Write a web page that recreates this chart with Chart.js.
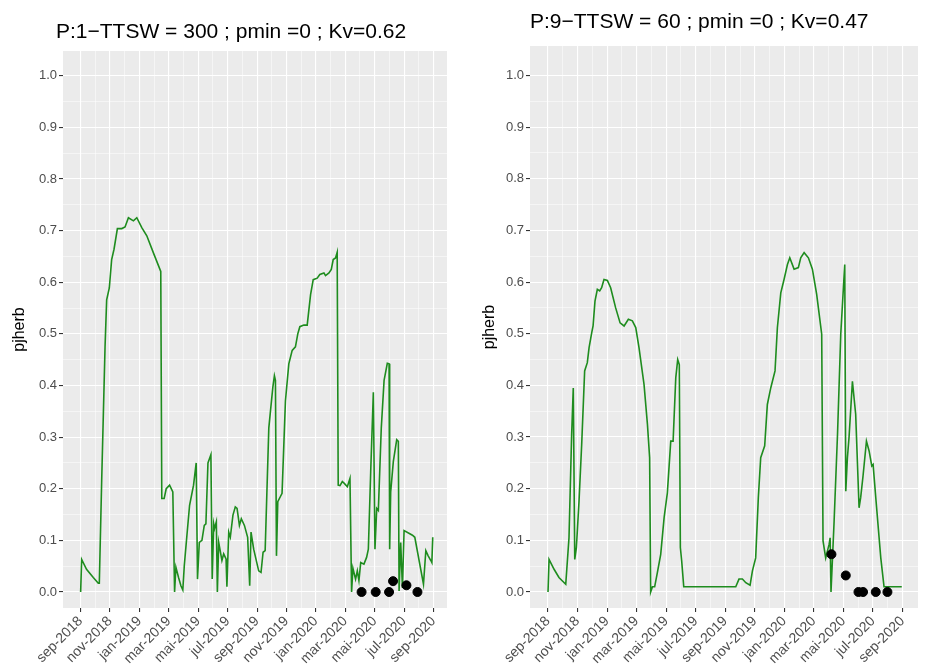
<!DOCTYPE html>
<html>
<head>
<meta charset="utf-8">
<script src="https://cdn.jsdelivr.net/npm/chart.js@4"></script>
<style>
  body { margin: 0; background: #fff; width: 933px; height: 665px; overflow: hidden; position: relative; }
  .panel { position: absolute; top: 0; height: 665px; }
</style>
</head>
<body>
<div class="panel" style="left:0;width:460px"><canvas id="p1" width="460" height="665"></canvas></div>
<div class="panel" style="left:470px;width:463px"><canvas id="p2" width="463" height="665"></canvas></div>
<script>
// Months counted from 1 sep 2018.
const monthLabels = ['sep-2018', 'nov-2018', 'jan-2019', 'mar-2019', 'mai-2019', 'jul-2019',
  'sep-2019', 'nov-2019', 'jan-2020', 'mar-2020', 'mai-2020', 'jul-2020', 'sep-2020'];

// Panel 1 : P:1
const months1 = [0, 0.07, 0.4, 0.86, 1.2, 1.27, 1.43, 1.66, 1.77, 1.95, 2.11, 2.27, 2.5, 2.8, 3.02, 3.25, 3.59, 3.82, 4.16, 4.5, 4.95, 5.45,
  5.52, 5.68, 5.82, 6.05, 6.27, 6.39, 6.48, 6.66, 6.82, 6.95, 7.05, 7.23, 7.41, 7.68, 7.86, 7.95, 8.07, 8.25, 8.41, 8.52, 8.66, 8.86,
  8.95, 9.05, 9.11, 9.23, 9.3, 9.39, 9.61, 9.73, 9.89, 9.95, 10.07, 10.18, 10.36, 10.52, 10.64, 10.8, 10.93, 11.14, 11.36, 11.5, 11.59,
  11.77, 12.11, 12.27, 12.41, 12.55, 12.8, 13.07, 13.18, 13.25, 13.32, 13.41, 13.59, 13.7, 13.93, 14.16, 14.39, 14.61, 14.77, 14.91,
  15.18, 15.41, 15.64, 15.82, 16.09, 16.27, 16.55, 16.66, 16.89, 17.05, 17.18, 17.34, 17.45, 17.52, 17.64, 17.8, 17.95, 18.14, 18.32,
  18.43, 18.52, 18.7, 18.82, 18.93, 19.05, 19.27, 19.45, 19.57, 19.73, 19.91, 20.02, 20.14, 20.25, 20.45, 20.64, 20.86, 20.98, 21.02,
  21.09, 21.27, 21.5, 21.61, 21.66, 21.77, 21.89, 22.0, 22.57, 22.73, 23.32, 23.48, 23.64, 23.82, 23.89, 23.95];
const herb1 = [0, 0.063, 0.044, 0.028, 0.017, 0.017, 0.214, 0.475, 0.566, 0.589, 0.644, 0.664, 0.704, 0.704, 0.707, 0.725, 0.719, 0.725,
  0.706, 0.69, 0.657, 0.621, 0.181, 0.181, 0.2, 0.207, 0.194, 0, 0.048, 0.028, 0.012, 0.004, 0.051, 0.11, 0.168, 0.207, 0.25, 0.025,
  0.096, 0.1, 0.129, 0.132, 0.25, 0.266, 0.025, 0.132, 0.123, 0.136, 0, 0.096, 0.061, 0.074, 0.064, 0.01, 0.116, 0.106, 0.149, 0.165,
  0.162, 0.129, 0.142, 0.129, 0.106, 0.012, 0.116, 0.083, 0.041, 0.038, 0.077, 0.08, 0.318, 0.396, 0.419, 0.41, 0.07, 0.175, 0.185,
  0.191, 0.37, 0.442, 0.468, 0.475, 0.5, 0.514, 0.517, 0.517, 0.576, 0.605, 0.608, 0.615, 0.618, 0.613, 0.618, 0.625, 0.644, 0.647,
  0.658, 0.207, 0.206, 0.214, 0.21, 0.204, 0.22, 0, 0.046, 0.025, 0.041, 0.022, 0.057, 0.054, 0.067, 0.083, 0.233, 0.387, 0.083,
  0.162, 0.158, 0.318, 0.41, 0.443, 0.442, 0.083, 0.194, 0.253, 0.295, 0.292, 0.002, 0.096, 0.008, 0.119, 0.11, 0.106, 0.015, 0.08,
  0.07, 0.061, 0.057, 0.106];
const obsMonths1 = [19.11, 20.07, 20.98, 21.25, 22.16, 22.91];
const obs1 = [0, 0, 0, 0.021, 0.013, 0];

// Panel 2 : P:9
const months2 = [0, 0.07, 0.41, 0.74, 1.2, 1.42, 1.6, 1.71, 1.81, 1.92, 2.1, 2.28, 2.48, 2.66, 2.78, 2.96, 3.05, 3.18, 3.34, 3.5, 3.63,
  3.79, 4.02, 4.24, 4.58, 4.88, 5.15, 5.44, 5.71, 5.94, 6.16, 6.5, 6.73, 6.88, 6.95, 7.07, 7.22, 7.4, 7.63, 7.86, 8.08, 8.31, 8.47,
  8.65, 8.78, 8.89, 8.96, 9.05, 9.19, 12.71, 12.93, 13.16, 13.39, 13.68, 13.84, 14.06, 14.24, 14.4, 14.67, 14.85, 15.08, 15.37, 15.53,
  15.76, 15.98, 16.21, 16.37, 16.66, 16.95, 17.11, 17.34, 17.63, 17.9, 18.19, 18.53, 18.62, 18.8, 19.03, 19.1, 19.16, 19.37, 19.6,
  19.82, 20.09, 20.16, 20.27, 20.38, 20.61, 20.83, 21.06, 21.17, 21.33, 21.56, 21.74, 21.92, 22.01, 22.19, 22.53, 22.75, 23.95];
const herb2 = [0, 0.063, 0.044, 0.028, 0.015, 0.105, 0.305, 0.395, 0.063, 0.086, 0.176, 0.286, 0.428, 0.444, 0.473, 0.502, 0.515,
  0.563, 0.586, 0.583, 0.589, 0.605, 0.603, 0.589, 0.55, 0.521, 0.515, 0.528, 0.525, 0.512, 0.473, 0.402, 0.325, 0.26, 0, 0.01,
  0.01, 0.037, 0.073, 0.144, 0.192, 0.292, 0.292, 0.415, 0.45, 0.44, 0.086, 0.06, 0.01, 0.01, 0.025, 0.025, 0.018, 0.013, 0.041,
  0.066, 0.183, 0.26, 0.283, 0.363, 0.395, 0.428, 0.512, 0.579, 0.605, 0.634, 0.647, 0.625, 0.628, 0.647, 0.657, 0.647, 0.625,
  0.576, 0.499, 0.099, 0.066, 0.092, 0.105, 0, 0.137, 0.305, 0.499, 0.634, 0.195, 0.26, 0.299, 0.408, 0.344, 0.163, 0.183, 0.225,
  0.292, 0.273, 0.244, 0.247, 0.183, 0.066, 0.01, 0.01];
const obsMonths2 = [19.19, 20.16, 21.02, 21.33, 22.19, 22.98];
const obs2 = [0.073, 0.032, 0, 0, 0, 0];

const fontFamily = '"Liberation Sans", Arial, sans-serif';
const titleFont = '21px ' + fontFamily;

function zip(xs, ys) {
  return xs.map((x, i) => ({x: x, y: ys[i]}));
}

function makePanel(canvasId, title, months, herb, obsMonths, obs, opt) {
  const titlePlugin = {
    id: 'panelTitle',
    afterDraw(chart) {
      const ctx = chart.ctx;
      ctx.save();
      ctx.font = titleFont;
      ctx.fillStyle = '#000';
      ctx.textBaseline = 'middle';
      ctx.fillText(title, opt.titleX, opt.titleY);
      ctx.restore();
    }
  };
  const bgPlugin = {
    id: 'panelBg',
    beforeDraw(chart) {
      const a = chart.chartArea;
      chart.ctx.save();
      chart.ctx.fillStyle = '#EBEBEB';
      chart.ctx.fillRect(a.left, a.top, a.right - a.left, a.bottom - a.top);
      chart.ctx.restore();
    }
  };
  return new Chart(document.getElementById(canvasId), {
    type: 'scatter',
    data: {
      datasets: [{
        type: 'line',
        data: zip(months, herb),
        borderColor: '#1E8C1E',
        borderWidth: 1.6,
        pointRadius: 0,
        tension: 0,
        order: 2
      }, {
        data: zip(obsMonths, obs),
        backgroundColor: '#000',
        borderColor: '#000',
        pointRadius: 4.5,
        order: 1
      }]
    },
    options: {
      responsive: false,
      animation: false,
      layout: {padding: {top: opt.top, right: opt.right, left: 0, bottom: 0}},
      plugins: {legend: {display: false}, tooltip: {enabled: false}},
      scales: {
        x: {
          type: 'linear',
          min: opt.xmin,
          max: opt.xmax,
          afterBuildTicks(scale) {
            const t = [];
            for (let m = 0; m <= 24; m++) t.push({value: m});
            scale.ticks = t;
          },
          afterFit(scale) { scale.height = 57; },
          ticks: {
            autoSkip: false,
            minRotation: 45,
            maxRotation: 45,
            padding: 1,
            color: '#4D4D4D',
            font: {size: 14, family: fontFamily},
            callback: (v) => (v % 2 === 0 ? monthLabels[v / 2] : '')
          },
          grid: {
            color: '#fff',
            lineWidth: (c) => (c.tick && c.tick.value % 2 === 0 ? 1.1 : 0.5),
            tickColor: (c) => (c.tick && c.tick.value % 2 === 0 ? '#333' : 'rgba(0,0,0,0)'),
            tickLength: 4,
            drawTicks: true
          },
          border: {display: false}
        },
        y: {
          min: -0.031,
          max: opt.ymax,
          afterBuildTicks(scale) {
            const t = [];
            for (let i = 0; i <= 20; i++) t.push({value: i * 0.05});
            scale.ticks = t;
          },
          afterFit(scale) { scale.width = opt.yw; },
          ticks: {
            color: '#4D4D4D',
            padding: 2,
            font: {size: 13, family: fontFamily},
            callback: (v) => (Math.round(v * 20) % 2 === 0 ? v.toFixed(1) : '')
          },
          grid: {
            color: '#fff',
            lineWidth: (c) => (c.tick && Math.round(c.tick.value * 20) % 2 === 0 ? 1.1 : 0.5),
            tickColor: (c) => (c.tick && Math.round(c.tick.value * 20) % 2 === 0 ? '#333' : 'rgba(0,0,0,0)'),
            tickLength: 4
          },
          border: {display: false},
          title: {
            display: true,
            text: 'pjherb',
            color: '#000',
            font: {size: 16, family: fontFamily},
            padding: {top: 10, bottom: 0}
          }
        }
      }
    },
    plugins: [bgPlugin, titlePlugin]
  });
}

makePanel('p1', 'P:1\u2212TTSW = 300 ; pmin =0 ; Kv=0.62', months1, herb1, obsMonths1, obs1,
  {top: 51, right: 13, yw: 63, xmin: -1.2, xmax: 24.92, ymax: 1.048, titleX: 56, titleY: 32});
makePanel('p2', 'P:9\u2212TTSW = 60 ; pmin =0 ; Kv=0.47', months2, herb2, obsMonths2, obs2,
  {top: 46, right: 15, yw: 60, xmin: -1.22, xmax: 25.05, ymax: 1.057, titleX: 60, titleY: 22});
</script>
</body>
</html>
